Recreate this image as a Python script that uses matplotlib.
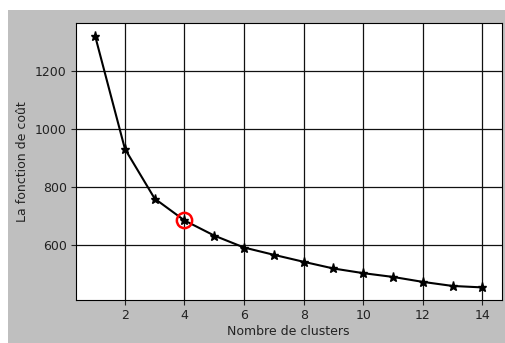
import matplotlib.pyplot as plt
from matplotlib.patches import Rectangle

# Coût (inertie) du k-means selon le nombre de clusters
n_clusters = [1, 2, 3, 4, 5, 6, 7, 8, 9, 10, 11, 12, 13, 14]
cout = [1320, 932, 761, 686, 634, 593, 568, 544, 521, 505, 492, 475, 461, 456]

# Coude choisi
k_coude = 4
cout_coude = 686

fig = plt.figure(figsize=(5.05, 3.43), dpi=100)
fig.patch.set_facecolor("white")
fig.patches.append(Rectangle((8 / 505, 0), 1, 1 - 10 / 343,
                             transform=fig.transFigure, facecolor="#bfbfbf",
                             edgecolor="none", zorder=-1))

ax = fig.add_axes([0.15, 0.1254, 0.8435, 0.8066])
ax.set_facecolor("white")

ax.plot(n_clusters, cout, color="black", marker="*", markersize=6.5, linewidth=1.5)
ax.plot(k_coude, cout_coude, marker="o", markersize=11, markerfacecolor="none",
        markeredgecolor="red", markeredgewidth=1.8)

ax.set_xticks([2, 4, 6, 8, 10, 12, 14])
ax.set_yticks([600, 800, 1000, 1200])
ax.grid(True, color="#111111", linewidth=0.9)
ax.tick_params(labelsize=9, colors="#222222", length=3.5, pad=3)
ax.set_xlabel("Nombre de clusters", fontsize=9, color="#222222", labelpad=2)
ax.set_ylabel("La fonction de coût", fontsize=9, color="#222222")

fig.savefig("out.png", dpi=100, facecolor=fig.get_facecolor())
